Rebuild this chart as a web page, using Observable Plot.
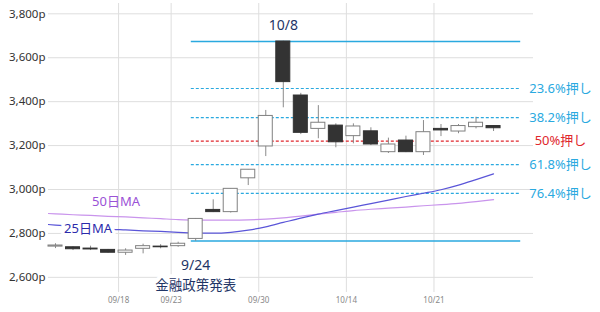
<!DOCTYPE html>
<html><head><meta charset="utf-8">
<script src="https://cdn.jsdelivr.net/npm/d3@7"></script>
<script src="https://cdn.jsdelivr.net/npm/@observablehq/plot@0.6"></script>
<style>body{margin:0;background:#fff}#chart svg{display:block}</style>
</head><body><div id="chart"></div>
<script>
// trading days
const dates = ["09/10","09/11","09/12","09/13","09/18","09/19","09/20","09/23","09/24","09/25","09/26","09/27","09/30","10/08","10/09","10/10","10/11","10/14","10/15","10/16","10/17","10/18","10/21","10/22","10/23","10/24"];
const open  = [2740,2737,2731,2725,2712,2730,2740,2742,2775,2907,2897,3051,3196,3674,3428,3276,3291,3243,3265,3170,3223,3170,3276,3264,3284,3289];
const close = [2745,2728,2727,2712,2722,2742,2737,2753,2866,2897,3003,3090,3335,3489,3258,3304,3215,3287,3205,3205,3170,3261,3269,3289,3304,3279];
const high  = [2753,2739,2742,2727,2730,2751,2749,2760,2868,2953,3004,3091,3360,3675,3438,3382,3299,3299,3281,3234,3243,3314,3296,3296,3329,3291];
const low   = [2731,2722,2722,2710,2700,2707,2730,2737,2764,2895,2893,3018,3150,3372,3250,3231,3190,3208,3200,3164,3168,3155,3241,3254,3276,3264];
// moving averages (first value is the day before the first candle)
const maDates = ["09/09", ...dates];
const ma25 = [2844,2838,2832,2826,2820,2816,2812,2809,2805,2802,2801,2805,2815,2830,2850,2870,2888,2904,2920,2936,2952,2968,2983,2999,3020,3045,3071];
const ma50 = [2893,2889,2885,2882,2878,2875,2871,2867,2863,2861,2861,2861,2862,2865,2871,2879,2888,2896,2904,2910,2915,2920,2926,2931,2937,2945,2954];
// retracement levels
const fibLevels = [3674,3460,3327,3220,3113,2982,2766];
const fibNames  = ["0%","23.6%押し","38.2%押し","50%押し","61.8%押し","76.4%押し","100%"];
const yTicks = [2600,2800,3000,3200,3400,3600,3800];
const tickDates = ["09/18","09/23","09/30","10/14","10/21"];

const GRID_OFF = -0.4;
const idx = d => dates.indexOf(d);
const candles = dates.map((d,i)=>({i, o:open[i], c:close[i], h:high[i], l:low[i]}));
const ups = candles.filter(d=>d.c>=d.o), downs = candles.filter(d=>d.c<d.o);
const maData = (arr)=>arr.map((v,k)=>({i:k-1, v}));
const fib = fibLevels.map((v,k)=>({v, name:fibNames[k]}));
const fibSolid = fib.filter(d=>!d.name.includes("押し"));
const fibDash = fib.filter(d=>d.name.includes("押し") && d.name!=="50%押し");
const fibRed = fib.filter(d=>d.name==="50%押し");
const fibX1 = idx("09/24") - 0.25, fibX2 = dates.length + 0.55;
const tickPos = tickDates.map(t=>idx(t)+GRID_OFF);
const FONT = "'Noto Sans','Noto Sans CJK JP',sans-serif";
const BLUE = "#2aa9df";
const NAVY = "#1f3566";

const chart = Plot.plot({
  width:600, height:312, marginLeft:48, marginRight:67, marginTop:3, marginBottom:20,
  x:{domain:[-0.4, 27.28], axis:null, label:null},
  y:{domain:[2531, 3847], axis:null, label:null},
  style:{fontFamily:FONT, background:"#fff", color:"#333"},
  marks:[
    Plot.ruleY(yTicks, {stroke:"#dedede", strokeWidth:1}),
    Plot.ruleX(tickPos, {stroke:"#dedede", strokeWidth:1}),
    Plot.axisY({ticks:yTicks, tickFormat:d=>d3.format(",")(d)+"p", tickSize:0, tickPadding:3, fontSize:11.5, color:"#333", label:null}),
    Plot.axisX({ticks:tickPos, tickFormat:d=>tickDates[tickPos.indexOf(d)], tickSize:0, tickPadding:5, fontSize:8, color:"#888", label:null}),
    Plot.ruleY(fibSolid, {y:"v", x1:fibX1, x2:fibX2, stroke:BLUE, strokeWidth:1.5}),
    Plot.ruleY(fibDash, {y:"v", x1:fibX1, x2:fibX2, stroke:BLUE, strokeWidth:1.2, strokeDasharray:"3,2"}),
    Plot.ruleY(fibRed, {y:"v", x1:fibX1, x2:fibX2, stroke:"#e0262c", strokeWidth:1.2, strokeDasharray:"3,2"}),
    Plot.text(fibDash, {y:"v", text:"name", frameAnchor:"right", dx:27, textAnchor:"middle", fill:BLUE, fontSize:13}),
    Plot.text(fibRed, {y:"v", text:"name", frameAnchor:"right", dx:27, textAnchor:"middle", fill:"#e0262c", fontSize:13}),
    Plot.line(maData(ma50), {x:"i", y:"v", stroke:"#c994ec", strokeWidth:1.2, curve:"monotone-x", clip:true}),
    Plot.line(maData(ma25), {x:"i", y:"v", stroke:"#5a55d8", strokeWidth:1.2, curve:"monotone-x", clip:true}),
    Plot.ruleX(candles, {x:"i", y1:"l", y2:"h", stroke:"#8a8a8a", strokeWidth:1}),
    Plot.rect(ups, {x1:d=>d.i-0.4, x2:d=>d.i+0.4, y1:"o", y2:"c", fill:"#fff", stroke:"#808080", strokeWidth:1}),
    Plot.rect(downs, {x1:d=>d.i-0.4, x2:d=>d.i+0.4, y1:"o", y2:"c", fill:"#333", stroke:"#333", strokeWidth:1}),
    Plot.text([{i:3, v:ma50[4]}], {x:"i", y:"v", text:()=>"50日MA", dx:8, dy:-14, fill:"#9a52d6", fontSize:13}),
    Plot.text([{i:2, v:ma25[3]}], {x:"i", y:"v", text:()=>"25日MA", dx:-2.5, dy:1.3, fill:"#2b2bab", fontSize:13, stroke:"#fff", strokeWidth:7}),
    Plot.text([candles[idx("10/08")]], {x:"i", y:"h", text:()=>"10/8", dy:-16, fill:NAVY, fontSize:14}),
    Plot.text([candles[idx("09/24")]], {x:"i", y:"l", text:()=>"9/24", dy:24, fill:NAVY, fontSize:14, stroke:"#fff", strokeWidth:7}),
    Plot.text([candles[idx("09/24")]], {x:"i", y:"l", text:()=>"金融政策発表", dy:44.5, fill:NAVY, fontSize:13.5, stroke:"#fff", strokeWidth:8})
  ]
});
document.getElementById("chart").append(chart);
</script>
</body></html>
